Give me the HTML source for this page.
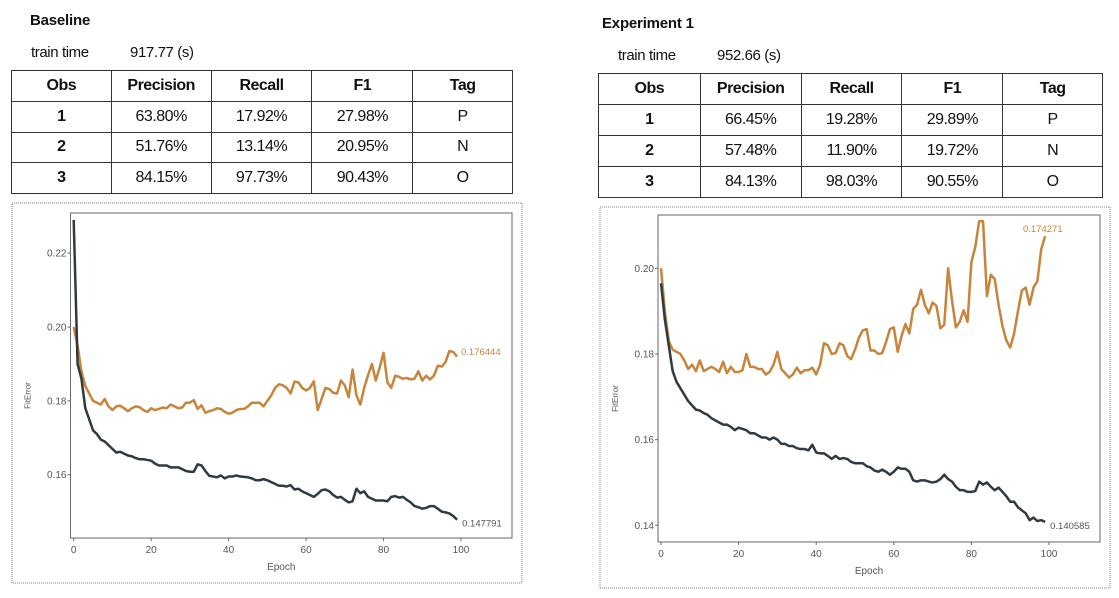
<!DOCTYPE html>
<html><head><meta charset="utf-8">
<style>
body{margin:0;width:1119px;height:598px;background:#fff;position:relative;overflow:hidden;font-family:"Liberation Sans Narrow","Liberation Sans",sans-serif;color:#111}
.t{position:absolute;font-size:15px;letter-spacing:-0.4px}
.title{font-weight:bold;font-family:"Liberation Sans",sans-serif;font-size:15px;letter-spacing:-0.2px}
table{position:absolute;border-collapse:collapse;font-size:16px;letter-spacing:-0.5px}
td,th{border:1.5px solid #333;text-align:center;padding:0}
th{font-weight:bold}
</style></head><body>
<div class="t title" style="left:30px;top:12px">Baseline</div>
<div class="t" style="left:31px;top:44px">train time</div>
<div class="t" style="left:130px;top:44px">917.77 (s)</div>
<table style="left:11px;top:70px;width:502px;height:124px">
<colgroup><col style="width:100px"><col style="width:100px"><col style="width:101px"><col style="width:101px"><col style="width:100px"></colgroup>
<tr><th>Obs</th><th>Precision</th><th>Recall</th><th>F1</th><th>Tag</th></tr>
<tr><th>1</th><td>63.80%</td><td>17.92%</td><td>27.98%</td><td>P</td></tr>
<tr><th>2</th><td>51.76%</td><td>13.14%</td><td>20.95%</td><td>N</td></tr>
<tr><th>3</th><td>84.15%</td><td>97.73%</td><td>90.43%</td><td>O</td></tr>
</table>
<div class="t title" style="left:602px;top:15px">Experiment 1</div>
<div class="t" style="left:618px;top:47px">train time</div>
<div class="t" style="left:717px;top:47px">952.66 (s)</div>
<table style="left:598px;top:73px;width:505px;height:125px">
<colgroup><col style="width:102px"><col style="width:101px"><col style="width:101px"><col style="width:101px"><col style="width:100px"></colgroup>
<tr><th>Obs</th><th>Precision</th><th>Recall</th><th>F1</th><th>Tag</th></tr>
<tr><th>1</th><td>66.45%</td><td>19.28%</td><td>29.89%</td><td>P</td></tr>
<tr><th>2</th><td>57.48%</td><td>11.90%</td><td>19.72%</td><td>N</td></tr>
<tr><th>3</th><td>84.13%</td><td>98.03%</td><td>90.55%</td><td>O</td></tr>
</table>
<svg id="chart" width="1119" height="598" style="position:absolute;left:0;top:0"></svg>
<script>
const epochs=Array.from({length:100},(_,i)=>i);
const baseTrain=[0.229,0.19,0.186,0.178,0.175,0.172,0.171,0.1695,0.169,0.168,0.167,0.166,0.1662,0.1657,0.1652,0.165,0.1645,0.1642,0.1642,0.164,0.1638,0.163,0.1625,0.1625,0.1625,0.162,0.162,0.162,0.1615,0.161,0.1608,0.1608,0.1628,0.1625,0.161,0.1597,0.1595,0.1593,0.1598,0.159,0.1595,0.1595,0.1598,0.1595,0.1594,0.1593,0.159,0.1585,0.1585,0.1588,0.1585,0.158,0.1575,0.157,0.157,0.1568,0.1572,0.156,0.1562,0.1555,0.155,0.1545,0.154,0.1548,0.1558,0.156,0.1555,0.1545,0.1538,0.154,0.1532,0.1525,0.1528,0.1562,0.155,0.1555,0.154,0.1535,0.153,0.153,0.153,0.1528,0.154,0.1542,0.1538,0.154,0.1532,0.1525,0.1515,0.1512,0.1508,0.151,0.1515,0.1515,0.1508,0.15,0.1498,0.1495,0.1488,0.1478];
const baseValid=[0.2,0.195,0.188,0.184,0.182,0.18,0.1795,0.179,0.1805,0.1785,0.1775,0.1785,0.1787,0.178,0.1772,0.178,0.1785,0.1783,0.1775,0.177,0.178,0.1775,0.1778,0.1782,0.178,0.179,0.1785,0.178,0.1782,0.1795,0.1795,0.1802,0.1778,0.1788,0.1768,0.1772,0.1775,0.178,0.1778,0.177,0.1765,0.1768,0.1775,0.1778,0.1778,0.1785,0.1795,0.1795,0.1795,0.1785,0.18,0.1815,0.1835,0.1845,0.1842,0.1835,0.182,0.1852,0.185,0.1835,0.1828,0.1835,0.1853,0.1775,0.1805,0.1835,0.1832,0.1822,0.182,0.1855,0.1842,0.181,0.1885,0.1815,0.179,0.1835,0.187,0.19,0.1855,0.189,0.193,0.185,0.1835,0.1868,0.1865,0.186,0.1862,0.1858,0.186,0.188,0.1855,0.1868,0.1858,0.1868,0.1895,0.1893,0.1905,0.1935,0.1932,0.192];
const expTrain=[0.1965,0.188,0.182,0.176,0.1735,0.172,0.1705,0.169,0.168,0.167,0.1668,0.1662,0.1658,0.165,0.1645,0.164,0.1635,0.1635,0.163,0.1622,0.1628,0.1625,0.1622,0.1615,0.1615,0.161,0.1605,0.1605,0.16,0.1605,0.16,0.159,0.159,0.1585,0.1585,0.158,0.1578,0.1578,0.1575,0.1588,0.157,0.1568,0.1568,0.1562,0.1555,0.1562,0.1555,0.1557,0.1555,0.1548,0.1545,0.1545,0.1545,0.1538,0.1535,0.1528,0.1525,0.153,0.1525,0.1518,0.1525,0.1535,0.1532,0.1532,0.1525,0.1505,0.1502,0.1505,0.1505,0.1502,0.15,0.1502,0.1508,0.1518,0.1508,0.1502,0.149,0.1482,0.1482,0.1478,0.1478,0.148,0.1502,0.1495,0.15,0.149,0.1482,0.1488,0.1478,0.1468,0.1455,0.1455,0.1442,0.1435,0.1428,0.1412,0.1418,0.141,0.1412,0.1408];
const expValid=[0.2,0.19,0.183,0.181,0.1805,0.18,0.1785,0.1765,0.1775,0.176,0.1785,0.176,0.1765,0.177,0.1765,0.1758,0.1782,0.1755,0.177,0.1758,0.1758,0.1762,0.18,0.177,0.177,0.1765,0.1765,0.1752,0.1758,0.1775,0.1805,0.1765,0.1755,0.1745,0.1752,0.1768,0.1755,0.1762,0.1762,0.1768,0.1752,0.1775,0.1825,0.182,0.18,0.1802,0.1825,0.182,0.1795,0.1788,0.181,0.1838,0.1855,0.1858,0.1808,0.1808,0.18,0.1802,0.1828,0.1858,0.1862,0.1805,0.1842,0.187,0.1848,0.1905,0.1915,0.195,0.1915,0.1895,0.192,0.1912,0.186,0.1868,0.2,0.1925,0.1862,0.1875,0.1902,0.1875,0.2015,0.205,0.211,0.211,0.1935,0.1985,0.1975,0.1915,0.1865,0.1832,0.1815,0.1848,0.19,0.1948,0.1955,0.1915,0.1955,0.197,0.2045,0.2075];
const xTicks=[0,20,40,60,80,100];
const baseYTicks=[0.16,0.18,0.20,0.22];
const expYTicks=[0.14,0.16,0.18,0.20];
const baseLabels=["0.176444","0.147791"];
const expLabels=["0.174271","0.140585"];

const NS="http://www.w3.org/2000/svg";
const svg=document.getElementById('chart');
function mk(tag,attrs,parent){const e=document.createElementNS(NS,tag);for(const k in attrs)e.setAttribute(k,attrs[k]);(parent||svg).appendChild(e);return e;}

function drawChart(cfg){
  const g=mk('g',{});
  
  
  const sx=v=>cfg.x0+(v-0)*(cfg.x100-cfg.x0)/100;
  const sy=v=>cfg.yA+(v-cfg.vA)*(cfg.yB-cfg.yA)/(cfg.vB-cfg.vA);
  const ob=mk('rect',{x:cfg.ox,y:cfg.oy,width:cfg.ow,height:cfg.oh,fill:'#fff',stroke:'#aaa','stroke-width':1.5,'stroke-dasharray':'1 1'},g);
  
  
  const pa=mk('rect',{x:cfg.pl,y:cfg.pt,width:cfg.pr-cfg.pl,height:cfg.pb-cfg.pt,fill:'none',stroke:'#666','stroke-width':1},g);
  
  
  xTicks.forEach(t=>{
    mk('line',{x1:sx(t),x2:sx(t),y1:cfg.pb,y2:cfg.pb+3,stroke:'#666'},g);
    const tx=mk('text',{x:sx(t),y:cfg.pb+15,'text-anchor':'middle','font-size':10,fill:'#555','font-family':'Liberation Sans, sans-serif'},g);
    tx.textContent=t;
    
    
  });
  cfg.yTicks.forEach(t=>{
    mk('line',{x1:cfg.pl-3,x2:cfg.pl,y1:sy(t),y2:sy(t),stroke:'#666'},g);
    const tx=mk('text',{x:cfg.pl-4,y:sy(t)+3.5,'text-anchor':'end','font-size':10,fill:'#555','font-family':'Liberation Sans, sans-serif'},g);
    tx.textContent=t.toFixed(2);
    
    
  });
  const xt=mk('text',{x:(cfg.pl+cfg.pr)/2-10,y:cfg.pb+32,'text-anchor':'middle','font-size':10,fill:'#555','font-family':'Liberation Sans, sans-serif'},g);
  xt.textContent='Epoch';
  
  
  const cy=(cfg.pt+cfg.pb)/2+20;
  const yt=mk('text',{x:cfg.pl-40,y:cy,'text-anchor':'middle','font-size':8,fill:'#555',transform:`rotate(-90 ${cfg.pl-40} ${cy})`,'font-family':'Liberation Sans, sans-serif'},g);
  yt.textContent='FitError';
  
  
  const line=(vals,color,name)=>{
    const p=mk('polyline',{points:vals.map((v,i)=>sx(epochs[i])+','+sy(v)).join(' '),fill:'none',stroke:color,'stroke-width':2.5,'stroke-linejoin':'round'},g);
    
    
  };
  line(cfg.valid,'#c8843a','validation-error-line');
  line(cfg.train,'#2f3b40','training-error-line');
  const lt=cfg.train[cfg.train.length-1];
  const a=mk('text',{x:cfg.lab1x,y:cfg.lab1y,'font-size':9.5,fill:'#c8843a','font-family':'Liberation Sans, sans-serif'},g);
  a.textContent=cfg.labels[0];
  
  
  const b=mk('text',{x:sx(99)+5,y:sy(lt)+7,'font-size':9.5,fill:'#555','font-family':'Liberation Sans, sans-serif'},g);
  b.textContent=cfg.labels[1];
  
  
}
drawChart({name:'baseline-chart',ox:12,oy:203,ow:510,oh:380,pl:70.5,pr:512,pt:213,pb:538,x0:73.7,x100:461,yA:327,vA:0.20,yB:474.7,vB:0.16,yTicks:baseYTicks,train:baseTrain,valid:baseValid,labels:baseLabels,lab1x:461,lab1y:355});
drawChart({name:'experiment-chart',ox:600,oy:207,ow:510,oh:381,pl:658,pr:1100,pt:215,pb:542,x0:661,x100:1049,yA:268.3,vA:0.20,yB:525.3,vB:0.14,yTicks:expYTicks,train:expTrain,valid:expValid,labels:expLabels,lab1x:1023,lab1y:232});
</script>
</body></html>
